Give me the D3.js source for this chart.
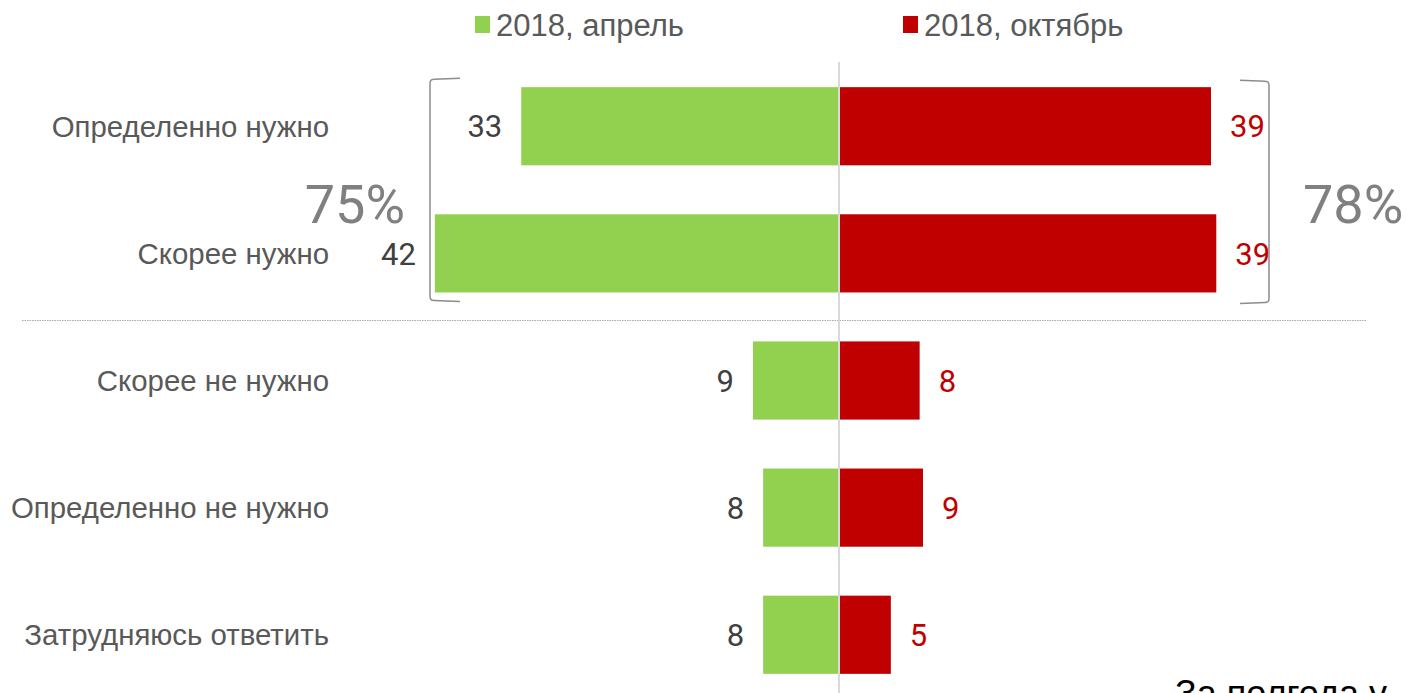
<!DOCTYPE html>
<html>
<head>
<meta charset="utf-8">
<script src="https://cdn.jsdelivr.net/npm/d3@7"></script>
<style>
  body { margin: 0; background: #fff; overflow: hidden; }
  text { font-family: "Liberation Sans", Arial, sans-serif; }
</style>
</head>
<body>
<div id="visualization"></div>
<script>
let w = 1406;
let h = 693;

// data
let categories = ["Определенно нужно", "Скорее нужно", "Скорее не нужно", "Определенно не нужно", "Затрудняюсь ответить"];
let seriesNames = ["2018, апрель", "2018, октябрь"];
let april = [33.1, 42.1, 8.96, 7.9, 7.9];
let october = [38.75, 39.3, 8.4, 8.75, 5.4];
let aprilLabels = ["33", "42", "9", "8", "8"];
let octoberLabels = ["39", "39", "8", "9", "5"];
let totals = ["75%", "78%"];

let green = "#92D050";
let red = "#C00000";

let viz = d3.select("#visualization")
  .append("svg")
  .attr("width", w)
  .attr("height", h);

let center = 839;
// px per percent ~9.6
let xLeft = d3.scaleLinear().domain([0, 50]).range([center, center - 480]);
let xRight = d3.scaleLinear().domain([0, 50]).range([center, center + 480]);
let yScale = d3.scaleBand().domain(categories).range([63, 698]).paddingInner(0.385).paddingOuter(0.19);

// separator between "need" and "don't need"
viz.append("line")
  .attr("x1", 22).attr("x2", 1366)
  .attr("y1", 320.5).attr("y2", 320.5)
  .attr("stroke", "#a6a6a6")
  .attr("stroke-width", 1)
  .attr("stroke-dasharray", "1.5,1");

// bars
viz.selectAll(".bar-apr").data(categories).enter()
  .append("rect")
  .attr("class", "bar-apr")
  .attr("x", (d, i) => xLeft(april[i]))
  .attr("y", d => yScale(d))
  .attr("width", (d, i) => center - xLeft(april[i]))
  .attr("height", yScale.bandwidth())
  .attr("fill", green);

viz.selectAll(".bar-oct").data(categories).enter()
  .append("rect")
  .attr("class", "bar-oct")
  .attr("x", center)
  .attr("y", d => yScale(d))
  .attr("width", (d, i) => xRight(october[i]) - center)
  .attr("height", yScale.bandwidth())
  .attr("fill", red);

// center axis line
viz.append("line")
  .attr("x1", center).attr("x2", center)
  .attr("y1", 62).attr("y2", h)
  .attr("stroke", "#d9d9d9")
  .attr("stroke-width", 2);

// category labels
viz.selectAll(".cat").data(categories).enter()
  .append("text")
  .attr("class", "cat")
  .attr("x", 329)
  .attr("y", d => yScale(d) + yScale.bandwidth() / 2)
  .attr("dy", "0.35em")
  .attr("text-anchor", "end")
  .attr("font-size", 29.4)
  .attr("fill", "#595959")
  .text(d => d);

// value labels
viz.selectAll(".val-apr").data(categories).enter()
  .append("text")
  .attr("class", "val-apr")
  .attr("x", (d, i) => xLeft(april[i]) - 19)
  .attr("y", d => yScale(d) + yScale.bandwidth() / 2)
  .attr("dy", "0.36em")
  .attr("text-anchor", "end")
  .attr("font-size", 31)
  .attr("fill", "#404040")
  .style("font-family", "Roboto, sans-serif")
  .text((d, i) => aprilLabels[i]);

viz.selectAll(".val-oct").data(categories).enter()
  .append("text")
  .attr("class", "val-oct")
  .attr("x", (d, i) => xRight(october[i]) + 19)
  .attr("y", d => yScale(d) + yScale.bandwidth() / 2)
  .attr("dy", "0.36em")
  .attr("text-anchor", "start")
  .attr("font-size", 31)
  .attr("fill", red)
  .style("font-family", "Roboto, sans-serif")
  .text((d, i) => octoberLabels[i]);

// brackets round the top two rows
let bTop = yScale(categories[0]) - 9;
let bBottom = yScale(categories[1]) + yScale.bandwidth() + 9;
viz.append("path")
  .attr("d", "M460," + bTop + " L434," + (bTop + 1) + " Q430," + (bTop + 1) + " 430," + (bTop + 5) +
    " L430," + (bBottom - 5) + " Q430," + (bBottom - 1) + " 434," + (bBottom - 1) + " L460," + bBottom)
  .attr("fill", "none").attr("stroke", "#8c8c8c").attr("stroke-width", 1.5);
viz.append("path")
  .attr("d", "M1240," + (bTop + 2) + " L1265," + (bTop + 3) + " Q1269," + (bTop + 3) + " 1269," + (bTop + 7) +
    " L1269," + (bBottom - 3) + " Q1269," + (bBottom + 1) + " 1265," + (bBottom + 1) + " L1240," + (bBottom + 2))
  .attr("fill", "none").attr("stroke", "#8c8c8c").attr("stroke-width", 1.5);

viz.append("text")
  .attr("x", 405).attr("y", 223)
  .attr("text-anchor", "end")
  .attr("font-size", 54)
  .attr("fill", "#808080")
  .style("font-family", "Roboto, sans-serif")
  .text(totals[0]);
viz.append("text")
  .attr("x", 1303).attr("y", 223)
  .attr("text-anchor", "start")
  .attr("font-size", 54)
  .attr("fill", "#808080")
  .style("font-family", "Roboto, sans-serif")
  .text(totals[1]);

// legend
let legendX = [475, 903];
let legend = viz.selectAll(".legend").data(seriesNames).enter()
  .append("g")
  .attr("class", "legend")
  .attr("transform", (d, i) => "translate(" + legendX[i] + ",0)");
legend.append("rect")
  .attr("x", 0).attr("y", 16)
  .attr("width", 15).attr("height", 17)
  .attr("fill", (d, i) => i == 0 ? green : red);
legend.append("text")
  .attr("x", 21).attr("y", 36)
  .attr("font-size", 31)
  .attr("fill", "#595959")
  .text(d => d);

// cut-off caption at the bottom
viz.append("text")
  .attr("x", 1175).attr("y", 706)
  .attr("font-size", 36)
  .attr("fill", "#000")
  .text("За полгода у");
</script>
</body>
</html>
